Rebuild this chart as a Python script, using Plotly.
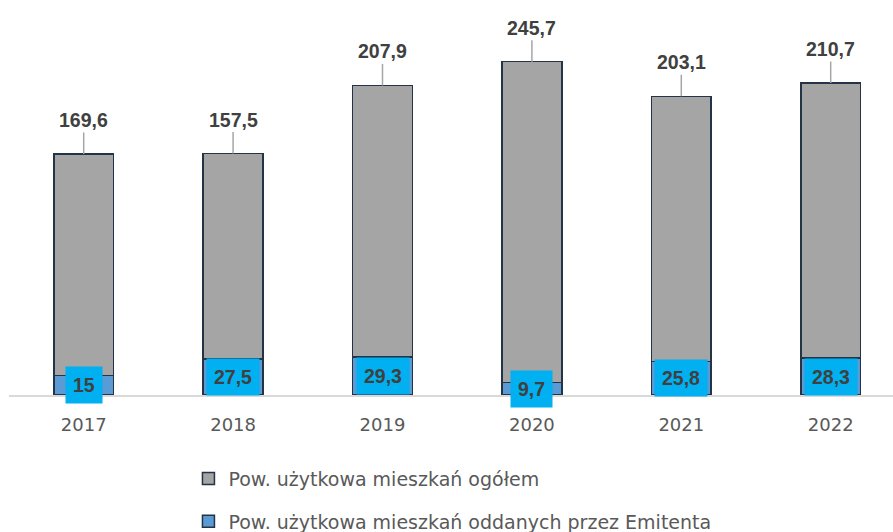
import plotly.graph_objects as go

years = ["2017", "2018", "2019", "2020", "2021", "2022"]
total = [169.6, 157.5, 207.9, 245.7, 203.1, 210.7]
emitent = [15, 27.5, 29.3, 9.7, 25.8, 28.3]
name_total = "Pow. użytkowa mieszkań ogółem"
name_emit = "Pow. użytkowa mieszkań oddanych przez Emitenta"

def fmt(v):
    return ("%g" % v).replace(".", ",")

fig = go.Figure()
fig.add_trace(go.Bar(x=years, y=emitent, name=name_emit, legendgroup="b", legendrank=2,
                     marker=dict(color="#5B9BD5", line=dict(color="#243447", width=1.5)),
                     width=0.4, hoverinfo="skip"))
fig.add_trace(go.Bar(x=years, y=total, name=name_total, legendgroup="a", legendrank=1,
                     marker=dict(color="#A5A5A5", line=dict(color="#243447", width=1.5)),
                     width=0.4, hoverinfo="skip"))

for i, (t, e) in enumerate(zip(total, emitent)):
    fig.add_annotation(x=i, y=t + e, text="<b>%s</b>" % fmt(t),
                       showarrow=True, arrowhead=0, arrowwidth=1.5, arrowcolor="#A6A6A6",
                       ax=0, ay=-34,
                       font=dict(family="Liberation Sans", size=19.5, color="#404040"))
    fig.add_annotation(x=i, y=e / 2, text="<b>%s</b>" % fmt(e),
                       showarrow=False, bgcolor="#00B0F0", borderpad=7,
                       font=dict(family="Liberation Sans", size=19.5, color="#404040"))

fig.update_layout(
    barmode="stack",
    width=893, height=532,
    margin=dict(l=9, r=0, t=10, b=137, autoexpand=False),
    plot_bgcolor="white", paper_bgcolor="white",
    showlegend=True,
    legend=dict(orientation="v", x=0.203, xanchor="left", y=-0.168, yanchor="top",
                traceorder="grouped", tracegroupgap=15,
                font=dict(family="DejaVu Sans", size=19, color="#595959")),
    xaxis=dict(type="category", range=[-0.5, 5.417], showline=True, linecolor="#D9D9D9",
               linewidth=2, ticks="outside", ticklen=12, tickcolor="rgba(0,0,0,0)",
               automargin=False,
               tickfont=dict(family="DejaVu Sans", size=18, color="#595959")),
    yaxis=dict(range=[0, 295], showticklabels=False, showgrid=False, zeroline=False,
               showline=False, automargin=False),
)

fig.write_html("out.html", config={"displayModeBar": False})
with open("out.html", encoding="utf-8") as f:
    html = f.read()
html = html.replace("<head>", "<head><style>html,body{margin:0;padding:0;}</style>", 1)
with open("out.html", "w", encoding="utf-8") as f:
    f.write(html)
